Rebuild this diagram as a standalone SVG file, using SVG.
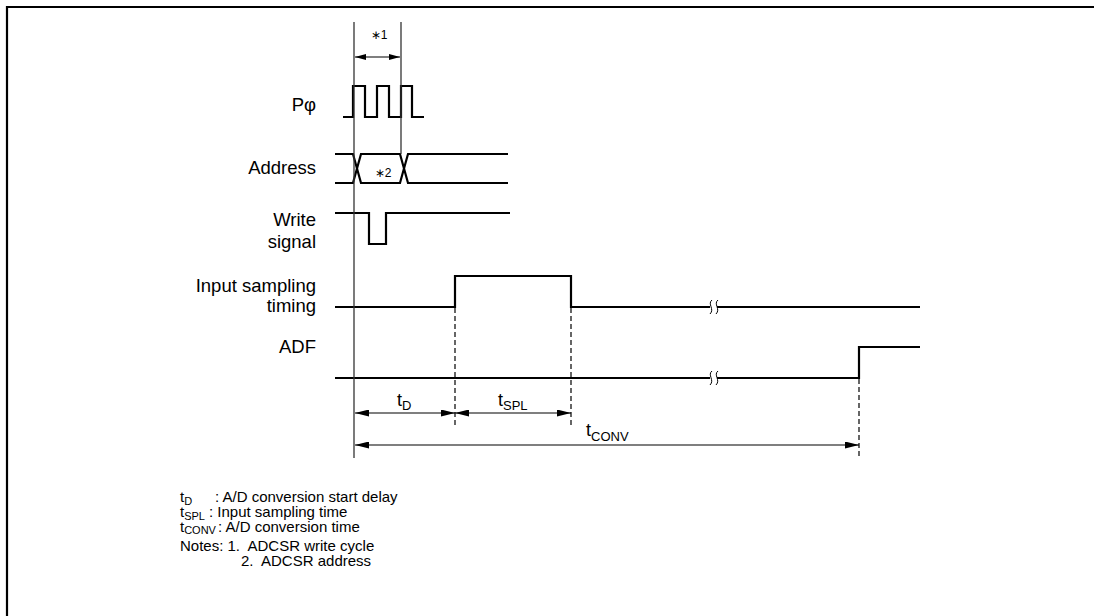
<svg xmlns="http://www.w3.org/2000/svg" width="1094" height="616" viewBox="0 0 1094 616">
<defs>
<marker id="ah" viewBox="0 0 14 7" refX="14" refY="3.5" markerWidth="14" markerHeight="7" markerUnits="userSpaceOnUse" orient="auto-start-reverse"><path d="M0,0 L14,3.5 L0,7 Z" fill="#000"/></marker>
<marker id="ahs" viewBox="0 0 11 6" refX="11" refY="3" markerWidth="11" markerHeight="6" markerUnits="userSpaceOnUse" orient="auto-start-reverse"><path d="M0,0 L11,3 L0,6 Z" fill="#000"/></marker>
</defs>
<style>
text{font-family:"Liberation Sans",Arial,sans-serif;fill:#000}
.lbl{font-size:18.5px;text-anchor:end}
.leg{font-size:15px}
.dl{font-size:18px}
.sig{fill:none;stroke:#000;stroke-width:2.2}
.ref{fill:none;stroke:#333;stroke-width:1.3}
.dim{fill:none;stroke:#000;stroke-width:1.2}
.dash{fill:none;stroke:#000;stroke-width:1.2;stroke-dasharray:5,3}
.brk{fill:none;stroke:#000;stroke-width:1}
</style>
<rect width="1094" height="616" fill="#fff"/>
<g id="frame">
<path d="M6,7 H1094 M7,6 V616" fill="none" stroke="#000" stroke-width="2.2"/>
</g>
<g id="labels">
<text class="lbl" x="316" y="111">Pφ</text>
<text class="lbl" x="316" y="174">Address</text>
<text class="lbl" x="316" y="226">Write</text>
<text class="lbl" x="316" y="248">signal</text>
<text class="lbl" x="316" y="292">Input sampling</text>
<text class="lbl" x="316" y="312">timing</text>
<text class="lbl" x="316" y="353">ADF</text>
</g>
<g id="pclk"><path class="sig" d="M343,117 H353 V86 H365 V117 H377 V86 H389 V117 H401 V86 H412 V117 H424"/></g>
<g id="address">
<path class="sig" d="M335,154 H353 L361,183 H400 L408,154 H508"/>
<path class="sig" d="M335,183 H353 L361,154 H400 L408,183 H508"/>
<text x="383" y="177" font-size="12" text-anchor="middle">∗2</text>
</g>
<g id="write"><path class="sig" d="M335,213 H369 V244 H386 V213 H510"/></g>
<g id="sampling">
<path class="sig" d="M335,307 H455 V276 H571 V307 H710 M717,307 H920"/>
<path class="brk" d="M712,300 C707,304 715,309 710,314 M718,300 C713,304 721,309 716,314"/>
</g>
<g id="adf">
<path class="sig" d="M335,378 H710 M717,378 H859 V347 H920"/>
<path class="brk" d="M712,371 C707,375 715,380 710,385 M718,371 C713,375 721,380 716,385"/>
</g>
<g id="connectors">
<path class="ref" d="M354,22 V458"/>
<path class="ref" d="M401,22 V154" stroke-width="1"/>
<path class="dim" d="M355,57 H400" marker-start="url(#ahs)" marker-end="url(#ahs)"/>
<text x="379" y="39" font-size="12" text-anchor="middle">∗1</text>
<path class="dash" d="M455,308 V426"/>
<path class="dash" d="M571,308 V426"/>
<path class="dash" d="M859,379 V458"/>
<path class="dim" d="M355,413 H455" marker-start="url(#ah)" marker-end="url(#ah)"/>
<path class="dim" d="M455,413 H571" marker-start="url(#ah)" marker-end="url(#ah)"/>
<path class="dim" d="M355,445 H859" marker-start="url(#ah)" marker-end="url(#ah)"/>
<text class="dl" x="397" y="406">t<tspan font-size="13" dy="4">D</tspan></text>
<text class="dl" x="498" y="406">t<tspan font-size="13" dy="4">SPL</tspan></text>
<text class="dl" x="586" y="436">t<tspan font-size="13" dy="5">CONV</tspan></text>
</g>
<g id="legend">
<text class="leg" x="180" y="502">t<tspan font-size="11" dy="3">D</tspan></text>
<text class="leg" x="215" y="502">: A/D conversion start delay</text>
<text class="leg" x="180" y="517">t<tspan font-size="11" dy="3">SPL</tspan></text>
<text class="leg" x="209" y="517">: Input sampling time</text>
<text class="leg" x="180" y="532">t<tspan font-size="11" dy="2">CONV</tspan></text>
<text class="leg" x="218" y="532">: A/D conversion time</text>
<text class="leg" x="180" y="551" xml:space="preserve">Notes: 1.  ADCSR write cycle</text>
<text class="leg" x="241" y="566" xml:space="preserve">2.  ADCSR address</text>
</g>
</svg>
